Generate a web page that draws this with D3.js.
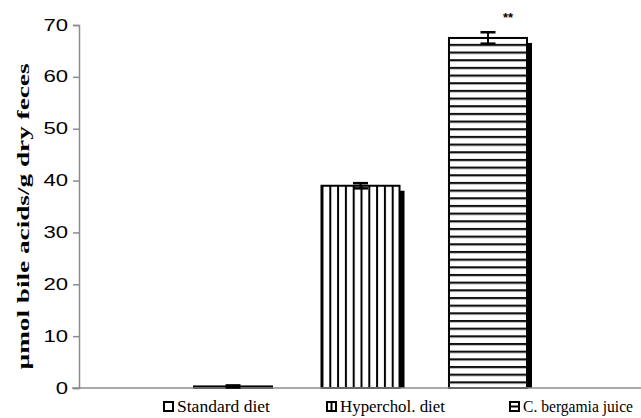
<!DOCTYPE html>
<html>
<head>
<meta charset="utf-8">
<script src="https://cdn.jsdelivr.net/npm/d3@7/dist/d3.min.js"></script>
<style>
  html, body { margin: 0; padding: 0; background: #fff; }
  svg { display: block; }
</style>
</head>
<body>
<svg id="chart" width="641" height="418"></svg>
<script>
// Fecal bile acid excretion by diet group
const groups = ["Standard diet", "Hyperchol. diet", "C. bergamia juice"];
const means = [0.3, 39.0, 67.5];
const errors = [0.2, 0.5, 1.1];
const marks = ["", "", "**"];
const yTicks = [0, 10, 20, 30, 40, 50, 60, 70];
const fills = ["plain", "vstripe", "hstripe"];

const svg = d3.select("#chart");
const plotLeft = 79, plotRight = 642, plotTop = 25, plotBottom = 388;

const x = d3.scaleBand().domain(groups).range([plotLeft, plotRight])
  .paddingInner(0.388).paddingOuter(0.902);
const y = d3.scaleLinear().domain([0, 70]).range([plotBottom, plotTop]);

const defs = svg.append("defs");
const bw = x.bandwidth();

// vertical stripe fill
const vp = defs.append("pattern").attr("id", "vstripe")
  .attr("patternUnits", "userSpaceOnUse")
  .attr("x", x(groups[1])).attr("y", 0)
  .attr("width", bw / 10).attr("height", 10);
vp.append("rect").attr("width", bw / 10).attr("height", 10).attr("fill", "#fff");
vp.append("rect").attr("x", 0).attr("width", 2).attr("height", 10).attr("fill", "#000");

// horizontal stripe fill
const hs = 7.67;
const hp = defs.append("pattern").attr("id", "hstripe")
  .attr("patternUnits", "userSpaceOnUse")
  .attr("x", 0).attr("y", y(0) + 1)
  .attr("width", 10).attr("height", hs);
hp.append("rect").attr("width", 10).attr("height", hs).attr("fill", "#fff");
hp.append("rect").attr("y", 0).attr("width", 10).attr("height", 2.2).attr("fill", "#111");

const fillOf = f => f === "plain" ? "#fff" : `url(#${f})`;

// y axis
const yAxis = svg.append("g").attr("transform", `translate(${plotLeft},0)`)
  .call(d3.axisLeft(y).tickValues(yTicks).tickSize(6).tickPadding(5));
yAxis.select(".domain").attr("stroke", "#8c8c8c").attr("stroke-width", 1.5);
yAxis.selectAll(".tick line").attr("stroke", "#8c8c8c").attr("stroke-width", 1.5);
yAxis.selectAll(".tick text")
  .attr("font-family", "'Liberation Sans', Arial, sans-serif")
  .attr("font-size", 16).attr("fill", "#000")
  .attr("textLength", d => String(d).length * 12.3)
  .attr("lengthAdjust", "spacingAndGlyphs");

// y axis title
svg.append("text")
  .attr("transform", `translate(29,${(plotTop + plotBottom) / 2 + 10}) rotate(-90)`)
  .attr("text-anchor", "middle")
  .attr("font-family", "'Liberation Serif', 'Times New Roman', serif")
  .attr("font-weight", "bold").attr("font-size", 17.5)
  .attr("textLength", 306).attr("lengthAdjust", "spacingAndGlyphs")
  .text("µmol bile acids/g dry feces");

// bar shadows
const shadow = 5;
svg.append("g").selectAll("rect").data(groups).join("rect")
  .attr("x", d => x(d) + shadow)
  .attr("y", (d, i) => Math.min(y(means[i]) + shadow, y(0)))
  .attr("width", bw)
  .attr("height", (d, i) => Math.max(y(0) - y(means[i]) - shadow, 0))
  .attr("fill", "#000");

// bars
svg.append("g").selectAll("rect").data(groups).join("rect")
  .attr("x", d => x(d))
  .attr("y", (d, i) => y(means[i]))
  .attr("width", bw)
  .attr("height", (d, i) => y(0) - y(means[i]))
  .attr("fill", (d, i) => fillOf(fills[i]))
  .attr("stroke", "#000").attr("stroke-width", 2);

// x axis
svg.append("line")
  .attr("x1", plotLeft - 7).attr("x2", 641)
  .attr("y1", y(0)).attr("y2", y(0))
  .attr("stroke", "#8c8c8c").attr("stroke-width", 1.5);

// error bars
const eb = svg.append("g");
groups.forEach((g, i) => {
  const cx = x(g) + bw / 2;
  const hi = y(means[i] + errors[i]), lo = y(means[i] - errors[i]);
  eb.append("line").attr("x1", cx).attr("x2", cx).attr("y1", hi).attr("y2", lo)
    .attr("stroke", "#000").attr("stroke-width", 2);
  [hi, lo].forEach(v => eb.append("line")
    .attr("x1", cx - 7.5).attr("x2", cx + 7.5).attr("y1", v).attr("y2", v)
    .attr("stroke", "#000").attr("stroke-width", 2.5));
  if (marks[i]) {
    eb.append("text").attr("x", cx + 20).attr("y", hi - 10)
      .attr("text-anchor", "middle")
      .attr("font-family", "'Liberation Sans', Arial, sans-serif")
      .attr("font-weight", "bold").attr("font-size", 13)
      .text(marks[i]);
  }
});

// legend
const legendX = [163, 326, 509];
const legendW = [93, 105, 110];
const lg = svg.append("g");
groups.forEach((g, i) => {
  const lx = legendX[i], ly = 401;
  lg.append("rect").attr("x", lx + 1).attr("y", ly + 1).attr("width", 9).attr("height", 9)
    .attr("fill", "#fff").attr("stroke", "#000").attr("stroke-width", 2);
  if (fills[i] === "vstripe") {
    lg.append("line").attr("x1", lx + 5.5).attr("x2", lx + 5.5).attr("y1", ly + 1).attr("y2", ly + 10)
      .attr("stroke", "#000").attr("stroke-width", 2);
  } else if (fills[i] === "hstripe") {
    lg.append("line").attr("x1", lx + 1).attr("x2", lx + 10).attr("y1", ly + 5.5).attr("y2", ly + 5.5)
      .attr("stroke", "#000").attr("stroke-width", 2);
  }
  lg.append("text").attr("x", lx + 14).attr("y", ly + 11)
    .attr("font-family", "'Liberation Serif', 'Times New Roman', serif")
    .attr("font-size", 16.5)
    .attr("textLength", legendW[i]).attr("lengthAdjust", "spacingAndGlyphs")
    .text(g);
});
</script>
</body>
</html>
